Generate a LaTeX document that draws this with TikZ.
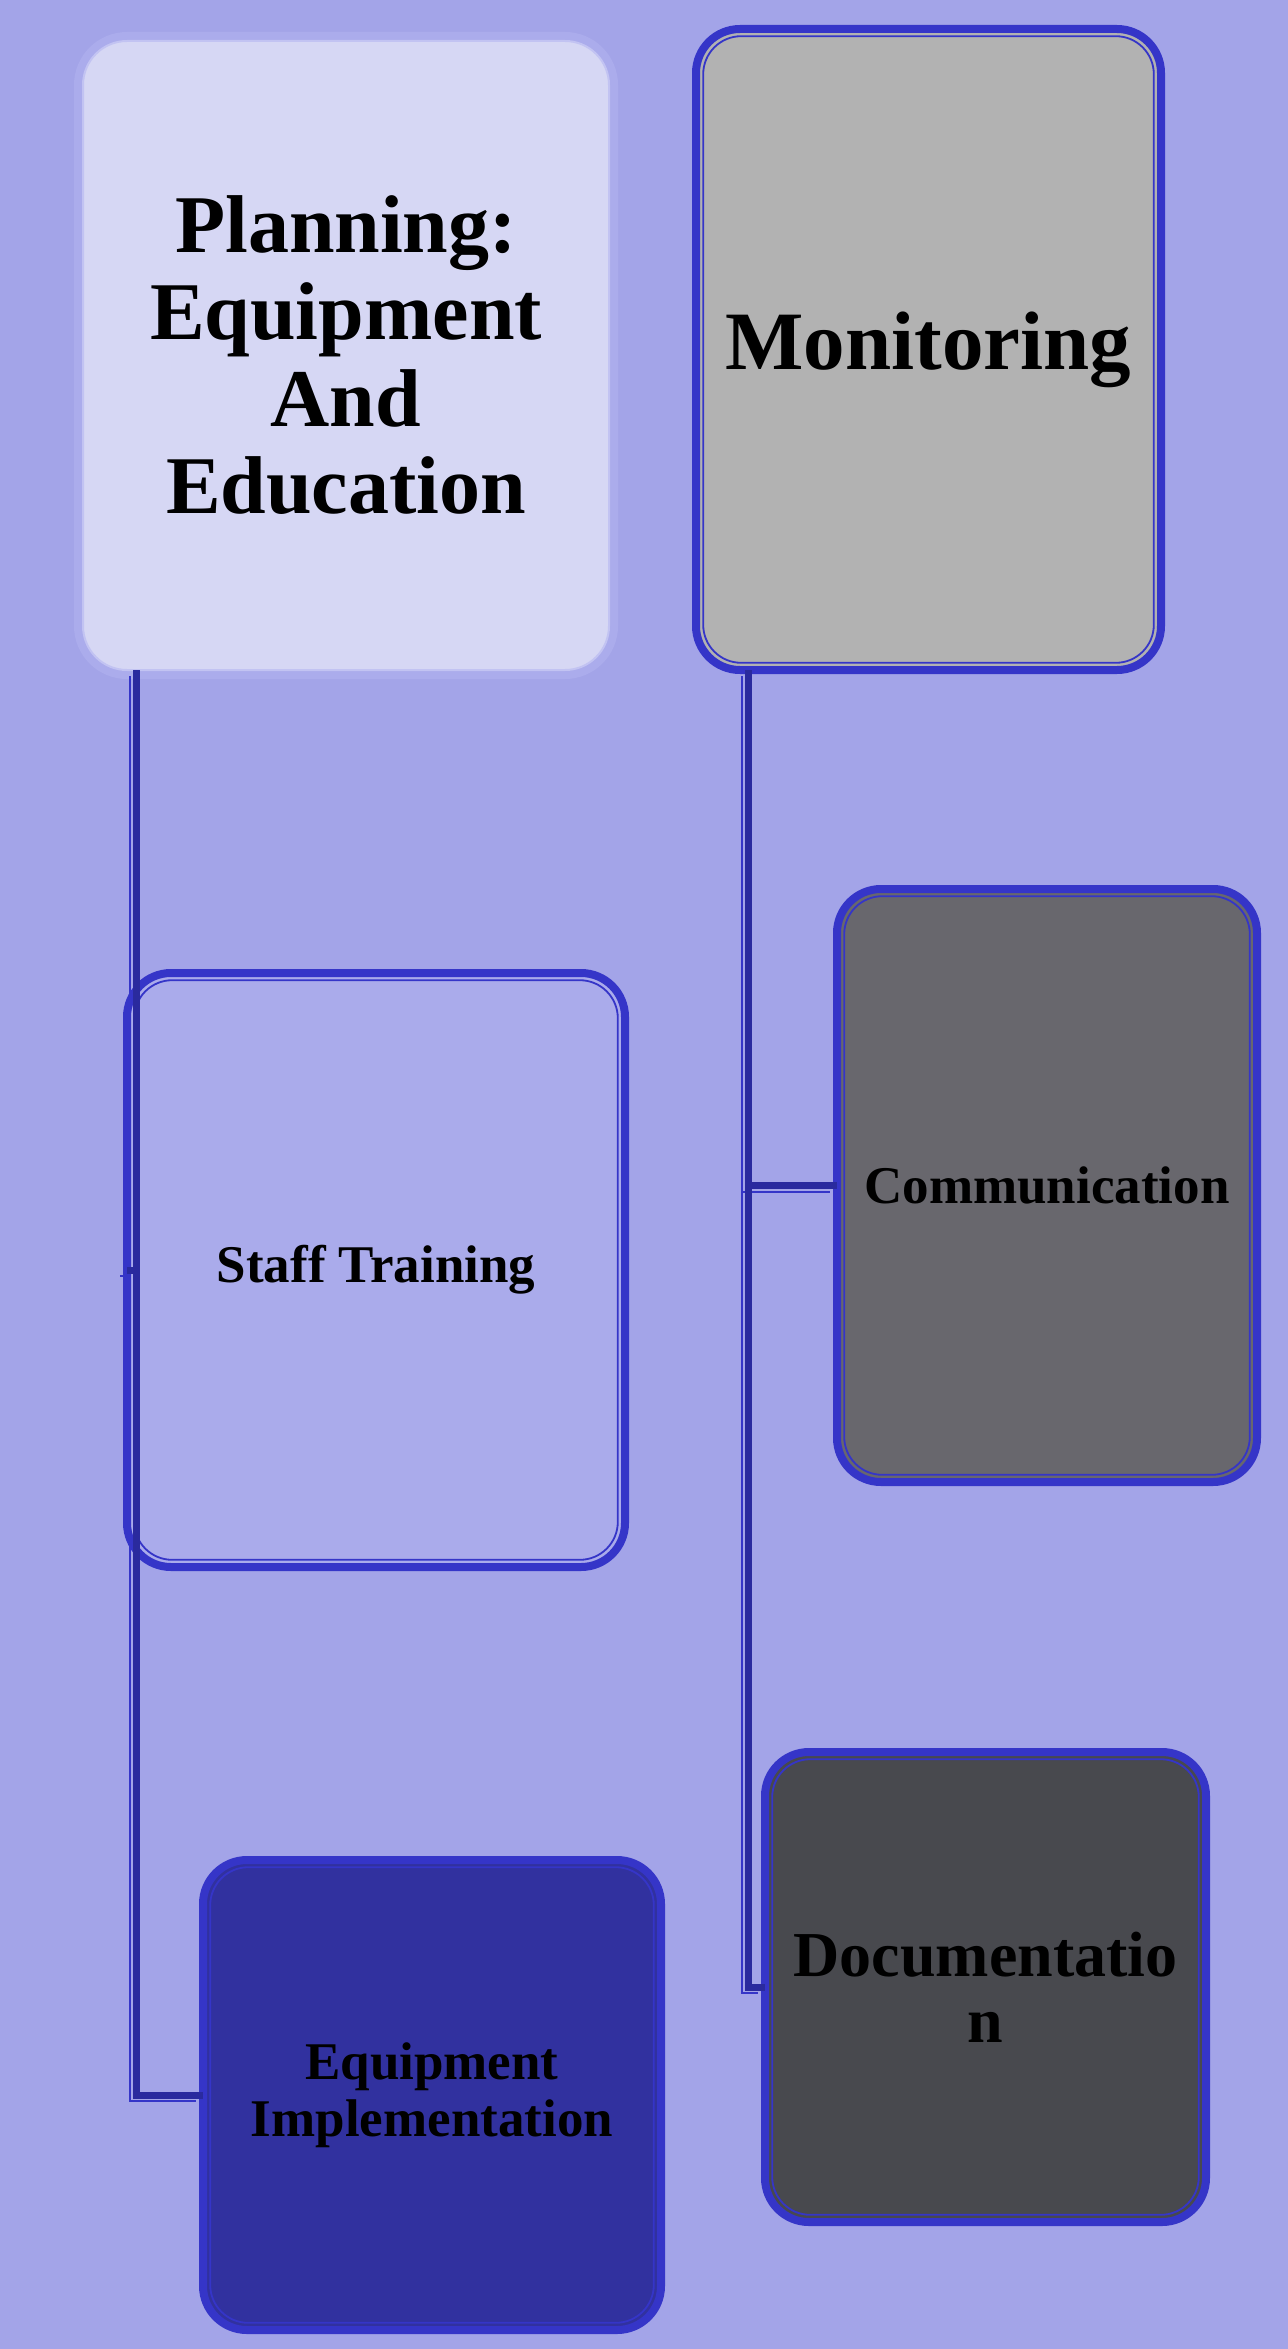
\documentclass[tikz,border=0pt]{standalone}
\usepackage{fontspec}
\setmainfont{Liberation Serif}

\definecolor{bgc}{HTML}{A3A4E8}
\definecolor{edgec}{HTML}{3535C8}
\definecolor{linkc}{HTML}{2A2A9E}
\definecolor{planfill}{HTML}{D6D7F4}
\definecolor{planedge}{HTML}{C2C3F2}
\definecolor{planhalo}{HTML}{ABACEC}
\definecolor{monfill}{HTML}{B2B2B2}
\definecolor{stafffill}{HTML}{AAABEB}
\definecolor{commfill}{HTML}{68676D}
\definecolor{docfill}{HTML}{48494E}
\definecolor{equipfill}{HTML}{31319F}

\begin{document}
\begin{tikzpicture}[
    x=1pt, y=-1pt,
    box/.style={rounded corners=22pt, draw=edgec, line width=4pt,
        inner sep=0pt, outer sep=0pt, align=center, font=\bfseries},
    inbox/.style={draw=edgec, line width=0.9pt, rounded corners=19pt},
    conn/.style={draw=linkc, line width=3.5pt},
    connshade/.style={draw=edgec, line width=1pt},
]
    \useasboundingbox (0,0) rectangle (644,1174.5);
    \fill[bgc] (0,0) rectangle (644,1174.5);

    % top row
    \node[box, draw=planedge, line width=1pt, fill=planfill,
        preaction={draw=planhalo, line width=9pt},
        minimum width=263pt, minimum height=314.5pt,
        font=\bfseries\fontsize{41}{43.5}\selectfont] (plan) at (173,177.75)
        {Planning:\\Equipment\\And\\Education};
    \node[box, fill=monfill, minimum width=232.5pt, minimum height=320.5pt,
        font=\bfseries\fontsize{41.5}{43.5}\selectfont] (mon) at (464.25,174.75)
        {Monitoring};

    % children
    \node[box, fill=stafffill, minimum width=249pt, minimum height=297pt,
        font=\bfseries\fontsize{26.5}{28.5}\selectfont] (staff) at (188,635)
        {Staff Training};
    \node[box, fill=commfill, minimum width=210pt, minimum height=296.5pt,
        font=\bfseries\fontsize{26.5}{28.5}\selectfont] (comm) at (523.5,592.75)
        {Communication};
    \node[box, fill=docfill, minimum width=220.5pt, minimum height=235pt,
        font=\bfseries\fontsize{32}{33}\selectfont] (doc) at (492.75,993.5)
        {Documentatio\\n};
    \node[box, fill=equipfill, minimum width=229pt, minimum height=235pt,
        font=\bfseries\fontsize{26.5}{28.5}\selectfont] (equip) at (216,1047.5)
        {Equipment\\Implementation};

    \foreach \n in {mon,staff,comm,doc,equip}
        \draw[inbox] ([shift={(3.6pt,-3.6pt)}]\n.north west)
            rectangle ([shift={(-3.6pt,3.6pt)}]\n.south east);

    % connectors
    \coordinate (ltop) at ([xshift=26.75pt]plan.south west);
    \coordinate (rtop) at ([xshift=26.25pt]mon.south west);
    \begin{scope}[transform canvas={shift={(-3.5pt,-3pt)}}]
        \draw[connshade] (ltop) |- (staff.west);
        \draw[connshade] (ltop) |- (equip.west);
        \draw[connshade] (rtop) |- (comm.west);
        \draw[connshade] (rtop) |- (doc.west);
    \end{scope}
    \draw[conn] (ltop) |- (staff.west);
    \draw[conn] (ltop) |- (equip.west);
    \draw[conn] (rtop) |- (comm.west);
    \draw[conn] (rtop) |- (doc.west);
\end{tikzpicture}
\end{document}
